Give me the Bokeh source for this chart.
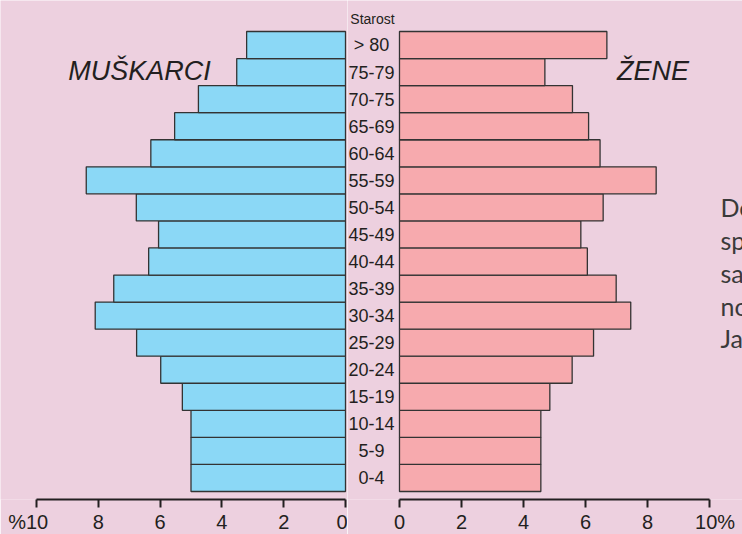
from bokeh.plotting import figure
from bokeh.layouts import row
from bokeh.models import Range1d, FixedTicker
from bokeh.core.properties import value
from bokeh.embed import file_html
from bokeh.resources import INLINE

ages = ["0-4", "5-9", "10-14", "15-19", "20-24", "25-29", "30-34", "35-39", "40-44",
        "45-49", "50-54", "55-59", "60-64", "65-69", "70-75", "75-79", "> 80"]
male = [5.0, 5.0, 5.0, 5.28, 5.98, 6.76, 8.1, 7.5, 6.37, 6.05, 6.77, 8.39, 6.3, 5.53, 4.76, 3.52, 3.2]
female = [4.56, 4.56, 4.56, 4.85, 5.57, 6.26, 7.46, 6.99, 6.06, 5.85, 6.57, 8.28, 6.47, 6.1, 5.58, 4.69, 6.69]
ticks = [0, 2, 4, 6, 8, 10]
NB = "\u00a0"
left_end_label = "%10" + NB * 3
right_end_label = NB * 2 + "10%"
para = ["Dobno-", "spolni", "sastav", "novog", "Japana"]

BG = "#EDD0DF"
BLUE = "#8BD8F6"
PINK = "#F7AAAE"
EDGE = "#333333"
TXT = "#231F20"

idx = list(range(len(ages)))
yr = Range1d(-0.7956, 17.6456)

def base(xr, fw, end_label):
    p = figure(frame_width=fw, frame_height=499, x_range=xr, y_range=yr,
               output_backend="svg", toolbar_location=None,
               min_border_left=0, min_border_right=0, min_border_top=0, min_border_bottom=35)
    p.background_fill_color = BG
    p.border_fill_color = BG
    p.outline_line_color = None
    p.grid.visible = False
    p.yaxis.visible = False
    ax = p.xaxis[0]
    ax.ticker = FixedTicker(ticks=ticks)
    ax.major_label_overrides = {10: end_label}
    ax.bounds = (0, 10)
    ax.axis_line_width = 2
    ax.axis_line_color = TXT
    ax.major_tick_line_width = 2
    ax.major_tick_line_color = TXT
    ax.major_tick_in = 0
    ax.major_tick_out = 8
    ax.minor_tick_line_color = None
    ax.major_label_standoff = 3
    ax.major_label_text_font = "Liberation Sans"
    ax.major_label_text_font_size = "20px"
    ax.major_label_text_color = TXT
    return p

# Left (men)
pl = base(Range1d(11.165, -0.0647), 347, left_end_label)
pl.hbar(y=idx, right=male, left=0, height=1, fill_color=BLUE, line_color=EDGE, line_width=1.3)
pl.text(x=[6.67], y=[15.05], text=["MUŠKARCI"], text_font=value("Liberation Sans"),
        text_font_style="italic", text_font_size="27px", text_color=TXT,
        text_align="center", text_baseline="middle")

# Right (women)
pr = base(Range1d(-1.677, 11.065), 395, right_end_label)
pr.hbar(y=idx, right=female, left=0, height=1, fill_color=PINK, line_color=EDGE, line_width=1.3)
pr.text(x=[-0.9] * len(ages), y=idx, text=ages, text_font=value("Liberation Sans"),
        text_font_size="18px", text_color=TXT, text_align="center", text_baseline="middle")
pr.text(x=[-0.871], y=[16.98], text=["Starost"], text_font=value("Liberation Sans"),
        text_font_size="14px", text_color=TXT, text_align="center", text_baseline="middle")
pr.text(x=[8.18], y=[15.05], text=["ŽENE"], text_font=value("Liberation Sans"),
        text_font_style="italic", text_font_size="27px", text_color=TXT,
        text_align="center", text_baseline="middle")
pr.text(x=[10.355] * len(para), y=[10.0, 8.79, 7.59, 6.37, 5.19], text=para,
        text_font=value("Lato"), text_font_size="25px", text_color="#3a3a3a",
        text_align="left", text_baseline="middle")

layout = row(pl, pr, spacing=0)
open("out.html", "w").write(file_html(layout, INLINE))
